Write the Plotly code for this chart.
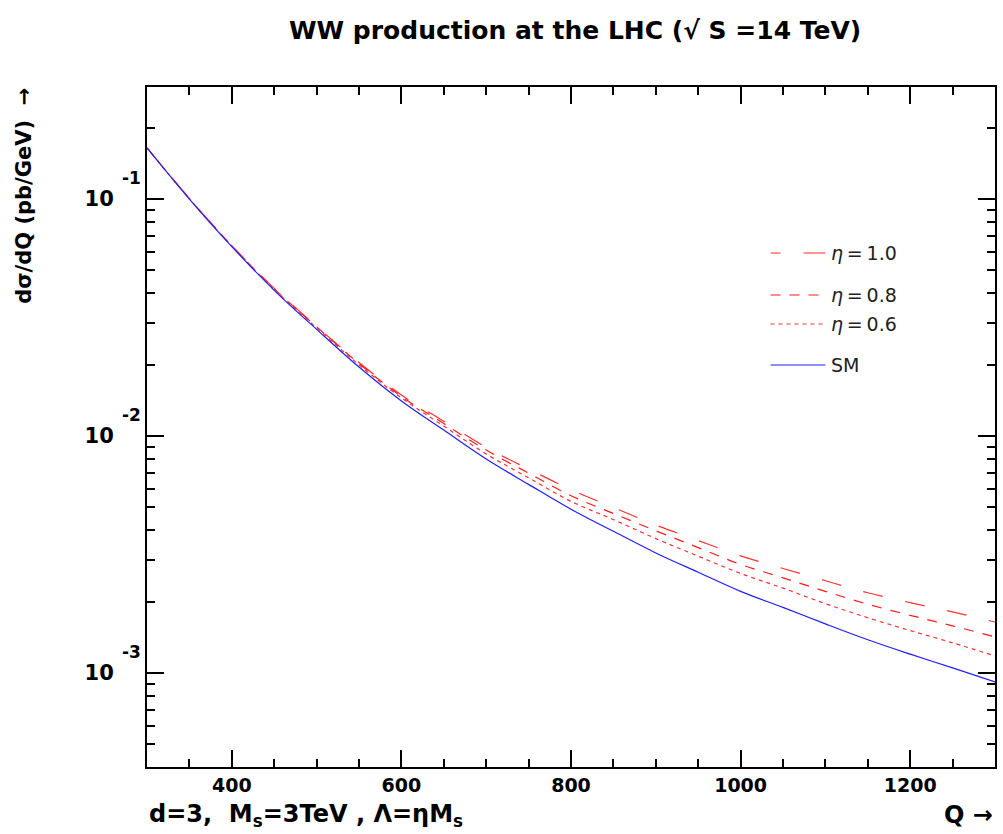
import plotly.graph_objects as go

# ---- data ----
Q = [300, 350, 400, 450, 500, 550, 600, 650, 700, 750, 800, 850, 900, 950,
     1000, 1050, 1100, 1150, 1200, 1250, 1300]

sm = [0.1644, 0.1000, 0.0630, 0.0412, 0.0282, 0.01954, 0.01406, 0.01059,
      0.0080, 0.00625, 0.00491, 0.00396, 0.00321, 0.00266, 0.00221, 0.00189,
      0.00161, 0.00138, 0.00120, 0.00105, 0.000916]

eta10 = [0.1644, 0.1005, 0.0636, 0.0420, 0.0290, 0.02042, 0.01490, 0.01154,
         0.00896, 0.00725, 0.00594, 0.00499, 0.00421, 0.00362, 0.00312,
         0.00276, 0.00245, 0.00218, 0.00198, 0.00181, 0.00164]

eta08 = [0.1644, 0.1004, 0.0635, 0.0418, 0.0289, 0.02022, 0.01469, 0.01128,
         0.00872, 0.00697, 0.00560, 0.00471, 0.00398, 0.00338, 0.00287,
         0.00252, 0.00221, 0.00195, 0.00175, 0.00158, 0.00142]

eta06 = [0.1644, 0.1002, 0.0633, 0.0416, 0.0286, 0.01997, 0.01448, 0.01101,
         0.00840, 0.00666, 0.00530, 0.00444, 0.00369, 0.00311, 0.00263,
         0.00228, 0.00196, 0.00171, 0.00151, 0.00134, 0.00118]

x_major = [400, 600, 800, 1000, 1200]
x_labels = ["400", "600", "800", "1000", "1200"]
y_major = [0.1, 0.01, 0.001]
y_major_log = [-1, -2, -3]
y_labels = ["10", "10", "10"]
y_exponents = ["-1", "-2", "-3"]
y_minor = [m * d for d in (0.0001, 0.001, 0.01, 0.1) for m in range(2, 10)]

legend_names = ["<i>η</i>\u2009=\u20091.0", "<i>η</i>\u2009=\u20090.8", "<i>η</i>\u2009=\u20090.6", "SM"]

BOLD = "DejaVu Sans"

fig = go.Figure()
fig.add_trace(go.Scatter(x=Q, y=eta10, mode="lines", line=dict(color="#ff3030", width=1.2, dash="20px,23px"), line_shape="spline"))
fig.add_trace(go.Scatter(x=Q, y=eta08, mode="lines", line=dict(color="#ff1a1a", width=1.2, dash="10px,9px"), line_shape="spline"))
fig.add_trace(go.Scatter(x=Q, y=eta06, mode="lines", line=dict(color="#ff3030", width=1.2, dash="4px,4px"), line_shape="spline"))
fig.add_trace(go.Scatter(x=Q, y=sm, mode="lines", line=dict(color="#1f1fff", width=1.2), line_shape="spline"))

axis_common = dict(showline=True, linecolor="black", linewidth=2, mirror="ticks",
                   ticks="inside", tickcolor="black", tickwidth=2, ticklen=17,
                   showgrid=False, zeroline=False)

fig.update_xaxes(range=[300, 1300], tickmode="array", tickvals=x_major, ticktext=x_labels,
                 tickfont=dict(family=BOLD, size=19, color="black", weight="bold"),
                 minor=dict(ticks="inside", ticklen=8, tickwidth=2, tickcolor="black", dtick=50, tick0=0),
                 **axis_common)
fig.update_yaxes(type="log", range=[-3.397, -0.527], tickmode="array", tickvals=y_major,
                 ticktext=y_labels, ticklabelstandoff=27,
                 tickfont=dict(family=BOLD, size=21, color="black", weight="bold"),
                 minor=dict(ticks="inside", ticklen=8, tickwidth=2, tickcolor="black", tickvals=y_minor),
                 **axis_common)

# legend drawn manually (line samples + labels)
leg_y = [0.7559, 0.6941, 0.6515, 0.5912]
leg_dash = ["10px,23px,22px", "10px,9px", "4px,4px", "solid"]
leg_col = ["#ff3030", "#ff1a1a", "#ff3030", "#1f1fff"]
shapes = []
annotations = []
for name, yy, dsh, col in zip(legend_names, leg_y, leg_dash, leg_col):
    shapes.append(dict(type="line", xref="paper", yref="paper", x0=0.7353, x1=0.8, y0=yy, y1=yy,
                       line=dict(color=col, width=1.2, dash=dsh)))
    annotations.append(dict(xref="paper", yref="paper", x=0.8047, y=yy, xanchor="left", yanchor="middle",
                            text=name, showarrow=False,
                            font=dict(family="DejaVu Sans", size=19, color="#222")))

# exponents of the y tick labels
for lv, ex in zip(y_major_log, y_exponents):
    annotations.append(dict(xref="paper", yref="y", x=-0.005, y=lv, xanchor="right", yanchor="middle",
                            yshift=21, text=ex, showarrow=False,
                            font=dict(family=BOLD, size=17, color="black", weight="bold")))

annotations += [
    dict(xref="paper", yref="paper", x=0.5047, y=1.0838, xanchor="center", yanchor="middle",
         text="WW production at the LHC (√ S =14 TeV)", showarrow=False,
         font=dict(family=BOLD, size=25, color="black", weight="bold")),
    dict(xref="paper", yref="paper", x=-0.145, y=0.840, xanchor="center", yanchor="middle",
         textangle=-90, text="dσ/dQ (pb/GeV)\u00a0\u00a0→", showarrow=False,
         font=dict(family=BOLD, size=21, color="black", weight="bold")),
    dict(xref="paper", yref="paper", x=0.0, y=-0.0706, xanchor="left", yanchor="middle",
         text="d=3,\u00a0\u00a0M<sub>s</sub>=3TeV , Λ=ηM<sub>s</sub>", showarrow=False,
         font=dict(family=BOLD, size=24, color="black", weight="bold")),
    dict(xref="paper", yref="paper", x=1.0, y=-0.0706, xanchor="right", yanchor="middle",
         text="Q \u2192", showarrow=False,
         font=dict(family=BOLD, size=24, color="black", weight="bold")),
]

fig.update_layout(width=1003, height=834, margin=dict(l=147, r=6, t=87, b=67),
                  plot_bgcolor="white", paper_bgcolor="white", showlegend=False,
                  shapes=shapes, annotations=annotations)

fig.write_html("out.html")
